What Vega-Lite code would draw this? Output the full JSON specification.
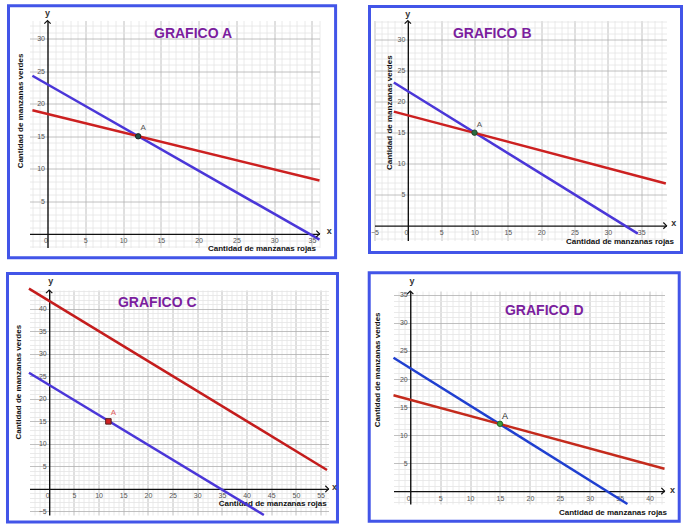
{
  "$schema": "https://vega.github.io/schema/vega-lite/v6.json",
  "background": "white",
  "padding": {"left": 5.5, "top": 3.5, "right": 0, "bottom": 0},
  "columns": 2,
  "align": "none",
  "spacing": {"row": 11.5, "column": 28},
  "resolve": {"scale": {"color": "independent"}},
  "config": {
    "view": {"stroke": null},
    "font": "Liberation Sans",
    "axis": {
      "labelFont": "Liberation Sans", "labelFontSize": 7, "labelColor": "#555555",
      "domainColor": "#111111", "domainWidth": 1.4, "ticks": false, "grid": true, "gridWidth": 0.8,
      "labelFlush": false, "labelOverlap": false, "labelPadding": 3,
      "titleFont": "Liberation Sans", "titleFontSize": 8, "titleFontWeight": "bold", "titleColor": "#111111",
      "titleAlign": "center", "titleBaseline": "middle"
    }
  },
  "concat": [
    {
      "width": 290, "height": 227,
      "resolve": {"axis": {"x": "independent", "y": "independent"}},
      "layer": [
        {
          "data": {"values": [{}]},
          "mark": {"type": "rect", "filled": false, "stroke": "#4255e8", "strokeWidth": 3, "clip": false},
          "encoding": {
            "x": {"datum": -5.164, "type": "quantitative", "scale": {"domain": [-2.384, 36], "nice": false, "zero": false}, "axis": null},
            "x2": {"datum": 38.13},
            "y": {"datum": 35.08, "type": "quantitative", "scale": {"domain": [-2.1, 32.8], "nice": false, "zero": false}, "axis": null},
            "y2": {"datum": -3.69}
          }
        },
        {
          "data": {"values": [
            {"serie": "azul", "x": -2, "y": 24.3}, {"serie": "azul", "x": 36, "y": -0.9},
            {"serie": "roja", "x": -2, "y": 19.0}, {"serie": "roja", "x": 36, "y": 8.2}
          ]},
          "mark": {"type": "line", "strokeWidth": 2.5},
          "encoding": {
            "x": {"field": "x", "type": "quantitative", "scale": {"domain": [-2.384, 36], "nice": false, "zero": false},
              "axis": {"orient": "bottom", "offset": -13.66, "grid": true,
                "values": [-2,-1,0,1,2,3,4,5,6,7,8,9,10,11,12,13,14,15,16,17,18,19,20,21,22,23,24,25,26,27,28,29,30,31,32,33,34,35,36],
                "gridColor": {"condition": {"test": "datum.value % 5 === 0", "value": "#b0b0b0"}, "value": "#e4e4e4"},
                "gridOpacity": {"condition": {"test": "datum.value === 0", "value": 0}, "value": 1},
                "labelAlign": {"condition": {"test": "datum.value === 0", "value": "right"}, "value": "center"},
                "labelExpr": "datum.value % 5 === 0 ? datum.label : ''",
                "title": "Cantidad de manzanas rojas", "titleX": 232, "titleY": 15}},
            "y": {"field": "y", "type": "quantitative", "scale": {"domain": [-2.1, 32.8], "nice": false, "zero": false},
              "axis": {"orient": "left", "offset": -18.0, "grid": true,
                "values": [-2,-1,0,1,2,3,4,5,6,7,8,9,10,11,12,13,14,15,16,17,18,19,20,21,22,23,24,25,26,27,28,29,30,31,32],
                "gridColor": {"condition": {"test": "datum.value % 5 === 0", "value": "#b0b0b0"}, "value": "#e4e4e4"},
                "gridOpacity": {"condition": {"test": "datum.value === 0", "value": 0}, "value": 1},
                "labelExpr": "datum.value % 5 === 0 && datum.value !== 0 ? datum.label : ''",
                "title": "Cantidad de manzanas verdes", "titleAngle": -90, "titleX": -27, "titleY": 90}},
            "color": {"field": "serie", "type": "nominal", "scale": {"domain": ["azul", "roja"], "range": ["#4a36d8", "#cc2020"]}, "legend": null}
          }
        },
        {
          "data": {"values": [{"x": 12, "y": 15, "punto": "A"}]},
          "layer": [
            {"mark": {"type": "point", "filled": true, "size": 30, "color": "#1f4f45", "stroke": "#111111", "strokeWidth": 0.8, "opacity": 1}},
            {"mark": {"type": "text", "dx": 5, "dy": -8, "fontSize": 8, "color": "#555555"}, "encoding": {"text": {"field": "punto"}}}
          ],
          "encoding": {
            "x": {"field": "x", "type": "quantitative", "scale": {"domain": [-2.384, 36], "nice": false, "zero": false}, "axis": null},
            "y": {"field": "y", "type": "quantitative", "scale": {"domain": [-2.1, 32.8], "nice": false, "zero": false}, "axis": null}
          }
        },
        {
          "data": {"values": [{}]},
          "mark": {"type": "text", "text": "GRAFICO A", "fontSize": 14, "fontWeight": "bold", "color": "#7b1e9e", "align": "center", "baseline": "middle"},
          "encoding": {"x": {"datum": 19.26, "type": "quantitative", "axis": null}, "y": {"datum": 30.75, "type": "quantitative", "axis": null}}
        },
        {
          "data": {"values": [{}]},
          "mark": {"type": "text", "text": "y", "fontSize": 9, "fontWeight": "bold", "color": "#333333", "align": "center", "baseline": "middle"},
          "encoding": {"x": {"datum": 0, "type": "quantitative", "axis": null}, "y": {"datum": 33.9, "type": "quantitative", "axis": null}}
        },
        {
          "data": {"values": [{}]},
          "mark": {"type": "text", "text": "x", "fontSize": 9, "fontWeight": "bold", "color": "#333333", "align": "center", "baseline": "middle"},
          "encoding": {"x": {"datum": 37.3, "type": "quantitative", "axis": null}, "y": {"datum": 0.5, "type": "quantitative", "axis": null}}
        },
        {
          "data": {"values": [{}]},
          "mark": {"type": "point", "shape": "M-1,-1L0,0L-1,1", "filled": false, "size": 40, "stroke": "#111111", "strokeWidth": 1.2, "opacity": 1, "clip": false},
          "encoding": {"x": {"datum": 36, "type": "quantitative", "axis": null}, "y": {"datum": 0, "type": "quantitative", "axis": null}}
        },
        {
          "data": {"values": [{}]},
          "mark": {"type": "point", "shape": "M-1,1L0,0L1,1", "filled": false, "size": 40, "stroke": "#111111", "strokeWidth": 1.2, "opacity": 1, "clip": false},
          "encoding": {"x": {"datum": 0, "type": "quantitative", "axis": null}, "y": {"datum": 32.8, "type": "quantitative", "axis": null}}
        }
      ]
    },
    {
      "width": 292, "height": 220,
      "resolve": {"axis": {"x": "independent", "y": "independent"}},
      "layer": [
        {
          "data": {"values": [{}]},
          "mark": {"type": "rect", "filled": false, "stroke": "#4255e8", "strokeWidth": 3, "clip": false},
          "encoding": {
            "x": {"datum": -5.75, "type": "quantitative", "scale": {"domain": [-5, 38.8], "nice": false, "zero": false}, "axis": null},
            "x2": {"datum": 41.05},
            "y": {"datum": 35.36, "type": "quantitative", "scale": {"domain": [-2.4, 33.1], "nice": false, "zero": false}, "axis": null},
            "y2": {"datum": -4.34}
          }
        },
        {
          "data": {"values": [
            {"serie": "azul", "x": -2.1, "y": 23.1}, {"serie": "azul", "x": 34.5, "y": -1.3},
            {"serie": "roja", "x": -2.1, "y": 18.4}, {"serie": "roja", "x": 38.7, "y": 6.8}
          ]},
          "mark": {"type": "line", "strokeWidth": 2.5},
          "encoding": {
            "x": {"field": "x", "type": "quantitative", "scale": {"domain": [-5, 38.8], "nice": false, "zero": false},
              "axis": {"orient": "bottom", "offset": -14.87, "grid": true,
                "values": [-5,-4,-3,-2,-1,0,1,2,3,4,5,6,7,8,9,10,11,12,13,14,15,16,17,18,19,20,21,22,23,24,25,26,27,28,29,30,31,32,33,34,35,36,37,38],
                "gridColor": {"condition": {"test": "datum.value % 5 === 0", "value": "#b0b0b0"}, "value": "#e4e4e4"},
                "gridOpacity": {"condition": {"test": "datum.value === 0", "value": 0}, "value": 1},
                "labelAlign": {"condition": {"test": "datum.value === 0", "value": "right"}, "value": "center"},
                "labelExpr": "datum.value % 5 === 0 ? datum.label : ''",
                "title": "Cantidad de manzanas rojas", "titleX": 245, "titleY": 16}},
            "y": {"field": "y", "type": "quantitative", "scale": {"domain": [-2.4, 33.1], "nice": false, "zero": false},
              "axis": {"orient": "left", "offset": -33.33, "grid": true,
                "values": [-2,-1,0,1,2,3,4,5,6,7,8,9,10,11,12,13,14,15,16,17,18,19,20,21,22,23,24,25,26,27,28,29,30,31,32,33],
                "gridColor": {"condition": {"test": "datum.value % 5 === 0", "value": "#b0b0b0"}, "value": "#e4e4e4"},
                "gridOpacity": {"condition": {"test": "datum.value === 0", "value": 0}, "value": 1},
                "labelExpr": "datum.value % 5 === 0 && datum.value !== 0 ? datum.label : ''",
                "title": "Cantidad de manzanas verdes", "titleAngle": -90, "titleX": -18.3, "titleY": 91.7}},
            "color": {"field": "serie", "type": "nominal", "scale": {"domain": ["azul", "roja"], "range": ["#4a36d8", "#cc2020"]}, "legend": null}
          }
        },
        {
          "data": {"values": [{"x": 10, "y": 15, "punto": "A"}]},
          "layer": [
            {"mark": {"type": "point", "filled": true, "size": 30, "color": "#2a6a40", "stroke": "#1a3a20", "strokeWidth": 0.8, "opacity": 1}},
            {"mark": {"type": "text", "dx": 5, "dy": -8, "fontSize": 8, "color": "#555555"}, "encoding": {"text": {"field": "punto"}}}
          ],
          "encoding": {
            "x": {"field": "x", "type": "quantitative", "scale": {"domain": [-5, 38.8], "nice": false, "zero": false}, "axis": null},
            "y": {"field": "y", "type": "quantitative", "scale": {"domain": [-2.4, 33.1], "nice": false, "zero": false}, "axis": null}
          }
        },
        {
          "data": {"values": [{}]},
          "mark": {"type": "text", "text": "GRAFICO B", "fontSize": 14, "fontWeight": "bold", "color": "#7b1e9e", "align": "center", "baseline": "middle"},
          "encoding": {"x": {"datum": 12.66, "type": "quantitative", "axis": null}, "y": {"datum": 30.95, "type": "quantitative", "axis": null}}
        },
        {
          "data": {"values": [{}]},
          "mark": {"type": "text", "text": "y", "fontSize": 9, "fontWeight": "bold", "color": "#333333", "align": "center", "baseline": "middle"},
          "encoding": {"x": {"datum": 0, "type": "quantitative", "axis": null}, "y": {"datum": 34.2, "type": "quantitative", "axis": null}}
        },
        {
          "data": {"values": [{}]},
          "mark": {"type": "text", "text": "x", "fontSize": 9, "fontWeight": "bold", "color": "#333333", "align": "center", "baseline": "middle"},
          "encoding": {"x": {"datum": 39.9, "type": "quantitative", "axis": null}, "y": {"datum": 0.4, "type": "quantitative", "axis": null}}
        },
        {
          "data": {"values": [{}]},
          "mark": {"type": "point", "shape": "M-1,-1L0,0L-1,1", "filled": false, "size": 40, "stroke": "#111111", "strokeWidth": 1.2, "opacity": 1, "clip": false},
          "encoding": {"x": {"datum": 38.8, "type": "quantitative", "axis": null}, "y": {"datum": 0, "type": "quantitative", "axis": null}}
        },
        {
          "data": {"values": [{}]},
          "mark": {"type": "point", "shape": "M-1,1L0,0L1,1", "filled": false, "size": 40, "stroke": "#111111", "strokeWidth": 1.2, "opacity": 1, "clip": false},
          "encoding": {"x": {"datum": 0, "type": "quantitative", "axis": null}, "y": {"datum": 33.1, "type": "quantitative", "axis": null}}
        }
      ]
    },
    {
      "width": 299, "height": 225,
      "resolve": {"axis": {"x": "independent", "y": "independent"}},
      "layer": [
        {
          "data": {"values": [{}]},
          "mark": {"type": "rect", "filled": false, "stroke": "#4255e8", "strokeWidth": 3, "clip": false},
          "encoding": {
            "x": {"datum": -8.45, "type": "quantitative", "scale": {"domain": [-3.99, 56.6], "nice": false, "zero": false}, "axis": null},
            "x2": {"datum": 58.42},
            "y": {"datum": 47.87, "type": "quantitative", "scale": {"domain": [-5.8, 44.2], "nice": false, "zero": false}, "axis": null},
            "y2": {"datum": -7.36}
          }
        },
        {
          "data": {"values": [
            {"serie": "azul", "x": -4.1, "y": 25.8}, {"serie": "azul", "x": 43.5, "y": -5.8},
            {"serie": "roja", "x": -4.1, "y": 44.5}, {"serie": "roja", "x": 56.3, "y": 4.2}
          ]},
          "mark": {"type": "line", "strokeWidth": 2.5},
          "encoding": {
            "x": {"field": "x", "type": "quantitative", "scale": {"domain": [-3.99, 56.6], "nice": false, "zero": false},
              "axis": {"orient": "bottom", "offset": -26.1, "grid": true,
                "values": [-3,-2,-1,0,1,2,3,4,5,6,7,8,9,10,11,12,13,14,15,16,17,18,19,20,21,22,23,24,25,26,27,28,29,30,31,32,33,34,35,36,37,38,39,40,41,42,43,44,45,46,47,48,49,50,51,52,53,54,55,56],
                "gridColor": {"condition": {"test": "datum.value % 5 === 0", "value": "#b0b0b0"}, "value": "#e4e4e4"},
                "gridOpacity": {"condition": {"test": "datum.value === 0", "value": 0}, "value": 1},
                "labelAlign": {"condition": {"test": "datum.value === 0", "value": "right"}, "value": "center"},
                "labelExpr": "datum.value % 5 === 0 ? datum.label : ''",
                "title": "Cantidad de manzanas rojas", "titleX": 242.7, "titleY": 15}},
            "y": {"field": "y", "type": "quantitative", "scale": {"domain": [-5.8, 44.2], "nice": false, "zero": false},
              "axis": {"orient": "left", "offset": -19.69, "grid": true,
                "values": [-5,-4,-3,-2,-1,0,1,2,3,4,5,6,7,8,9,10,11,12,13,14,15,16,17,18,19,20,21,22,23,24,25,26,27,28,29,30,31,32,33,34,35,36,37,38,39,40,41,42,43,44],
                "gridColor": {"condition": {"test": "datum.value % 5 === 0", "value": "#b0b0b0"}, "value": "#e4e4e4"},
                "gridOpacity": {"condition": {"test": "datum.value === 0", "value": 0}, "value": 1},
                "labelExpr": "datum.value % 5 === 0 && datum.value !== 0 ? datum.label : ''",
                "title": "Cantidad de manzanas verdes", "titleAngle": -90, "titleX": -30.4, "titleY": 91.7}},
            "color": {"field": "serie", "type": "nominal", "scale": {"domain": ["azul", "roja"], "range": ["#4a36d8", "#c41c1c"]}, "legend": null}
          }
        },
        {
          "data": {"values": [{"x": 12, "y": 15, "punto": "A"}]},
          "layer": [
            {"mark": {"type": "point", "shape": "square", "filled": true, "size": 30, "color": "#d02020", "stroke": "#552020", "strokeWidth": 1, "opacity": 1}},
            {"mark": {"type": "text", "dx": 5, "dy": -8, "fontSize": 8, "color": "#e06060"}, "encoding": {"text": {"field": "punto"}}}
          ],
          "encoding": {
            "x": {"field": "x", "type": "quantitative", "scale": {"domain": [-3.99, 56.6], "nice": false, "zero": false}, "axis": null},
            "y": {"field": "y", "type": "quantitative", "scale": {"domain": [-5.8, 44.2], "nice": false, "zero": false}, "axis": null}
          }
        },
        {
          "data": {"values": [{}]},
          "mark": {"type": "text", "text": "GRAFICO C", "fontSize": 14, "fontWeight": "bold", "color": "#7b1e9e", "align": "center", "baseline": "middle"},
          "encoding": {"x": {"datum": 21.9, "type": "quantitative", "axis": null}, "y": {"datum": 41.4, "type": "quantitative", "axis": null}}
        },
        {
          "data": {"values": [{}]},
          "mark": {"type": "text", "text": "y", "fontSize": 9, "fontWeight": "bold", "color": "#333333", "align": "center", "baseline": "middle"},
          "encoding": {"x": {"datum": 0.3, "type": "quantitative", "axis": null}, "y": {"datum": 46.2, "type": "quantitative", "axis": null}}
        },
        {
          "data": {"values": [{}]},
          "mark": {"type": "text", "text": "x", "fontSize": 9, "fontWeight": "bold", "color": "#333333", "align": "center", "baseline": "middle"},
          "encoding": {"x": {"datum": 57.8, "type": "quantitative", "axis": null}, "y": {"datum": 0.5, "type": "quantitative", "axis": null}}
        },
        {
          "data": {"values": [{}]},
          "mark": {"type": "point", "shape": "M-1,-1L0,0L-1,1", "filled": false, "size": 40, "stroke": "#111111", "strokeWidth": 1.2, "opacity": 1, "clip": false},
          "encoding": {"x": {"datum": 56.6, "type": "quantitative", "axis": null}, "y": {"datum": 0, "type": "quantitative", "axis": null}}
        },
        {
          "data": {"values": [{}]},
          "mark": {"type": "point", "shape": "M-1,1L0,0L1,1", "filled": false, "size": 40, "stroke": "#111111", "strokeWidth": 1.2, "opacity": 1, "clip": false},
          "encoding": {"x": {"datum": 0, "type": "quantitative", "axis": null}, "y": {"datum": 44.2, "type": "quantitative", "axis": null}}
        }
      ]
    },
    {
      "width": 271, "height": 213,
      "resolve": {"axis": {"x": "independent", "y": "independent"}},
      "layer": [
        {
          "data": {"values": [{}]},
          "mark": {"type": "rect", "filled": false, "stroke": "#4255e8", "strokeWidth": 3, "clip": false},
          "encoding": {
            "x": {"datum": -6.86, "type": "quantitative", "scale": {"domain": [-2.8, 42.5], "nice": false, "zero": false}, "axis": null},
            "x2": {"datum": 44.96},
            "y": {"datum": 38.95, "type": "quantitative", "scale": {"domain": [-2.3, 35.7], "nice": false, "zero": false}, "axis": null},
            "y2": {"datum": -5.39}
          }
        },
        {
          "data": {"values": [
            {"serie": "azul", "x": -2.8, "y": 23.8}, {"serie": "azul", "x": 36.3, "y": -2.3},
            {"serie": "roja", "x": -2.8, "y": 17.1}, {"serie": "roja", "x": 42.5, "y": 4.0}
          ]},
          "mark": {"type": "line", "strokeWidth": 2.5},
          "encoding": {
            "x": {"field": "x", "type": "quantitative", "scale": {"domain": [-2.8, 42.5], "nice": false, "zero": false},
              "axis": {"orient": "bottom", "offset": -12.9, "grid": true,
                "values": [-2,-1,0,1,2,3,4,5,6,7,8,9,10,11,12,13,14,15,16,17,18,19,20,21,22,23,24,25,26,27,28,29,30,31,32,33,34,35,36,37,38,39,40,41,42],
                "gridColor": {"condition": {"test": "datum.value % 5 === 0", "value": "#b0b0b0"}, "value": "#e4e4e4"},
                "gridOpacity": {"condition": {"test": "datum.value === 0", "value": 0}, "value": 1},
                "labelAlign": {"condition": {"test": "datum.value === 0", "value": "right"}, "value": "center"},
                "labelExpr": "datum.value % 5 === 0 ? datum.label : ''",
                "title": "Cantidad de manzanas rojas", "titleX": 219, "titleY": 21.5}},
            "y": {"field": "y", "type": "quantitative", "scale": {"domain": [-2.3, 35.7], "nice": false, "zero": false},
              "axis": {"orient": "left", "offset": -16.75, "grid": true,
                "values": [-2,-1,0,1,2,3,4,5,6,7,8,9,10,11,12,13,14,15,16,17,18,19,20,21,22,23,24,25,26,27,28,29,30,31,32,33,34,35],
                "gridColor": {"condition": {"test": "datum.value % 5 === 0", "value": "#b0b0b0"}, "value": "#e4e4e4"},
                "gridOpacity": {"condition": {"test": "datum.value === 0", "value": 0}, "value": 1},
                "labelExpr": "datum.value % 5 === 0 && datum.value !== 0 ? datum.label : ''",
                "title": "Cantidad de manzanas verdes", "titleAngle": -90, "titleX": -32.7, "titleY": 78.3}},
            "color": {"field": "serie", "type": "nominal", "scale": {"domain": ["azul", "roja"], "range": ["#1f3fd0", "#c42a1c"]}, "legend": null}
          }
        },
        {
          "data": {"values": [{"x": 15, "y": 12, "punto": "A"}]},
          "layer": [
            {"mark": {"type": "point", "filled": true, "size": 30, "color": "#3a9a3a", "stroke": "#1a5a1a", "strokeWidth": 0.8, "opacity": 1}},
            {"mark": {"type": "text", "dx": 5, "dy": -8, "fontSize": 9, "color": "#222222"}, "encoding": {"text": {"field": "punto"}}}
          ],
          "encoding": {
            "x": {"field": "x", "type": "quantitative", "scale": {"domain": [-2.8, 42.5], "nice": false, "zero": false}, "axis": null},
            "y": {"field": "y", "type": "quantitative", "scale": {"domain": [-2.3, 35.7], "nice": false, "zero": false}, "axis": null}
          }
        },
        {
          "data": {"values": [{}]},
          "mark": {"type": "text", "text": "GRAFICO D", "fontSize": 14, "fontWeight": "bold", "color": "#7b1e9e", "align": "center", "baseline": "middle"},
          "encoding": {"x": {"datum": 22.4, "type": "quantitative", "axis": null}, "y": {"datum": 32.1, "type": "quantitative", "axis": null}}
        },
        {
          "data": {"values": [{}]},
          "mark": {"type": "text", "text": "y", "fontSize": 9, "fontWeight": "bold", "color": "#333333", "align": "center", "baseline": "middle"},
          "encoding": {"x": {"datum": 0.3, "type": "quantitative", "axis": null}, "y": {"datum": 37.5, "type": "quantitative", "axis": null}}
        },
        {
          "data": {"values": [{}]},
          "mark": {"type": "text", "text": "x", "fontSize": 9, "fontWeight": "bold", "color": "#333333", "align": "center", "baseline": "middle"},
          "encoding": {"x": {"datum": 43.85, "type": "quantitative", "axis": null}, "y": {"datum": 0.2, "type": "quantitative", "axis": null}}
        },
        {
          "data": {"values": [{}]},
          "mark": {"type": "point", "shape": "M-1,-1L0,0L-1,1", "filled": false, "size": 40, "stroke": "#111111", "strokeWidth": 1.2, "opacity": 1, "clip": false},
          "encoding": {"x": {"datum": 42.5, "type": "quantitative", "axis": null}, "y": {"datum": 0, "type": "quantitative", "axis": null}}
        },
        {
          "data": {"values": [{}]},
          "mark": {"type": "point", "shape": "M-1,1L0,0L1,1", "filled": false, "size": 40, "stroke": "#111111", "strokeWidth": 1.2, "opacity": 1, "clip": false},
          "encoding": {"x": {"datum": 0, "type": "quantitative", "axis": null}, "y": {"datum": 35.7, "type": "quantitative", "axis": null}}
        }
      ]
    }
  ]
}
